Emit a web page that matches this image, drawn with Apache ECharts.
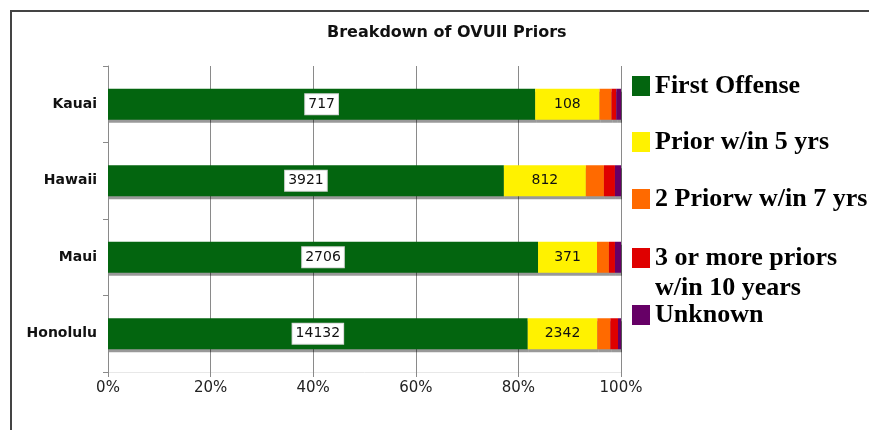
<!DOCTYPE html>
<html>
<head>
<meta charset="utf-8">
<script src="https://cdn.jsdelivr.net/npm/echarts@6/dist/echarts.min.js"></script>
<style>
  html, body { margin: 0; padding: 0; background: #fff; }
  #chart { width: 869px; height: 430px; }
</style>
</head>
<body>
<div id="chart"></div>
<script>
// Counties, top to bottom
const categories = ['Kauai', 'Hawaii', 'Maui', 'Honolulu'];

// OVUII cases by prior-offense history (counts per county)
const firstOffense = [717, 3921, 2706, 14132];
const priorWithin5 = [108, 812, 371, 2342];
const twoPriorsWithin7 = [20, 179, 75, 438];
const threePlusWithin10 = [8, 109, 38, 259];
const unknownPriors = [8, 60, 38, 101];

const seriesNames = [
  'First Offense',
  'Prior w/in 5 yrs',
  '2 Priorw w/in 7 yrs',
  '3 or more priors w/in 10 years',
  'Unknown'
];

// Percent axis ticks
const percentTicks = [0, 20, 40, 60, 80, 100];

const colors = ['#03650f', '#fff200', '#ff6a00', '#df0000', '#660066'];
const allCounts = [firstOffense, priorWithin5, twoPriorsWithin7, threePlusWithin10, unknownPriors];

// Row totals, used to turn counts into shares of 100%
const totals = categories.map((_, i) => allCounts.reduce((s, arr) => s + arr[i], 0));
const shares = allCounts.map(arr => arr.map((v, i) => v / totals[i] * 100));

const chart = echarts.init(document.getElementById('chart'), null, { renderer: 'canvas' });

const labelFont = { fontFamily: 'DejaVu Sans', fontSize: 14, color: '#111' };

const series = seriesNames.map((name, k) => ({
  name: name,
  type: 'bar',
  stack: 'total',
  barWidth: 31,
  data: shares[k],
  itemStyle: {
    color: colors[k],
    shadowColor: 'rgba(0,0,0,0.4)',
    shadowOffsetY: 3,
    shadowOffsetX: 1,
    shadowBlur: 0
  },
  label: k < 2 ? Object.assign({
    show: true,
    position: 'inside',
    formatter: p => String(allCounts[k][p.dataIndex]),
    backgroundColor: k === 0 ? '#ffffff' : 'transparent',
    borderColor: k === 0 ? '#d8d8d8' : 'transparent',
    borderWidth: k === 0 ? 1 : 0,
    padding: [3, 3, 3, 3]
  }, labelFont) : { show: false },
  emphasis: { disabled: true }
}));

// One legend block per entry so each sits on its own line
const legendTextStyle = {
  fontFamily: 'Liberation Serif',
  fontWeight: 'bold',
  fontSize: 26,
  lineHeight: 30,
  color: '#000'
};
const legendTops = [71, 127, 184, 243, 300];
const legends = seriesNames.map((name, k) => {
  const lg = {
    left: 632,
    top: legendTops[k],
    orient: 'vertical',
    padding: 0,
    itemWidth: 18,
    itemHeight: 20,
    icon: 'rect',
    selectedMode: false,
    data: [name],
    textStyle: legendTextStyle
  };
  if (k === 3) {
    // two-line entry: keep the swatch beside the first line
    lg.itemHeight = 50;
    lg.icon = 'path://M0,0H18V20H0Z M0,49.99H18V50H0Z';
    lg.formatter = () => '3 or more priors\nw/in 10 years';
  }
  return lg;
});

chart.setOption({
  animation: false,
  title: {
    text: 'Breakdown of OVUII Priors',
    left: 327,
    top: 25,
    padding: 0,
    textStyle: {
      fontFamily: 'DejaVu Sans',
      fontWeight: 'bold',
      fontSize: 16,
      color: '#111'
    }
  },
  legend: legends,
  grid: { left: 108, right: 248, top: 66, bottom: 58, containLabel: false },
  xAxis: {
    type: 'value',
    min: percentTicks[0],
    max: percentTicks[percentTicks.length - 1],
    interval: percentTicks[1] - percentTicks[0],
    axisLine: { show: true, lineStyle: { color: '#e8e8e8', width: 1 } },
    axisTick: { show: true, length: 5, lineStyle: { color: '#8a8a8a' } },
    splitLine: { show: true, lineStyle: { color: '#8a8a8a', width: 1 } },
    axisLabel: {
      formatter: '{value}%',
      fontFamily: 'DejaVu Sans',
      fontSize: 15,
      color: '#222',
      margin: 9
    }
  },
  yAxis: {
    type: 'category',
    data: categories,
    inverse: true,
    axisLine: { show: true, lineStyle: { color: '#8a8a8a', width: 1 } },
    axisTick: { show: true, length: 5, lineStyle: { color: '#8a8a8a' } },
    axisLabel: {
      fontFamily: 'DejaVu Sans',
      fontWeight: 'bold',
      fontSize: 14,
      color: '#111',
      margin: 11
    }
  },
  graphic: [{
    type: 'polyline',
    shape: { points: [[11, 430], [11, 11], [869, 11]] },
    style: { stroke: '#444', lineWidth: 2, fill: null },
    silent: true
  }],
  series: series
});
</script>
</body>
</html>
